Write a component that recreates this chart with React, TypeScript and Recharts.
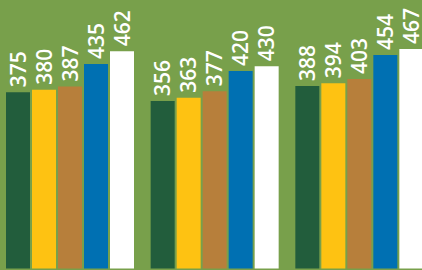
import { BarChart, Bar, XAxis, YAxis, LabelList } from "recharts";

const groups = ["Group 1", "Group 2", "Group 3"];
const seriesA = [375, 356, 388];
const seriesB = [380, 363, 394];
const seriesC = [387, 377, 403];
const seriesD = [435, 420, 454];
const seriesE = [462, 430, 467];

const data = groups.map((name, i) => ({
	name,
	a: seriesA[i],
	b: seriesB[i],
	c: seriesC[i],
	d: seriesD[i],
	e: seriesE[i],
}));

const series = [
	{ key: "a", color: "#225D3C" },
	{ key: "b", color: "#FEC212" },
	{ key: "c", color: "#B77F3B" },
	{ key: "d", color: "#0070B2" },
	{ key: "e", color: "#FFFFFF" },
];

function VerticalLabel(props: any) {
	const { x, y, width, value } = props;
	const cx = x + width / 2;
	const cy = y - 5;
	return (
		<text
			x={cx}
			y={cy}
			dy="0.36em"
			transform={`rotate(-90, ${cx}, ${cy})`}
			textAnchor="start"
			fill="#FFFFFF"
			fontFamily="'Open Sans', sans-serif"
			fontWeight={600}
			fontSize={21}>
			{value}
		</text>
	);
}

export default function App() {
	return (
		<div
			style={{
				position: "fixed",
				left: 0,
				top: 0,
				width: 422,
				height: 270,
				overflow: "hidden",
				background: "#78A04B",
			}}>
			<div style={{ position: "absolute", left: -2, top: 0 }}>
				<BarChart
					width={434}
					height={270}
					data={data}
					barSize={24}
					barGap={2}
					margin={{ top: 0, right: 0, left: 0, bottom: 1.5 }}>
					<XAxis dataKey="name" hide />
					<YAxis hide domain={[0, 571]} />
					{series.map((s) => (
						<Bar
							key={s.key}
							dataKey={s.key}
							fill={s.color}
							isAnimationActive={false}>
							<LabelList dataKey={s.key} content={<VerticalLabel />} />
						</Bar>
					))}
				</BarChart>
			</div>
		</div>
	);
}
